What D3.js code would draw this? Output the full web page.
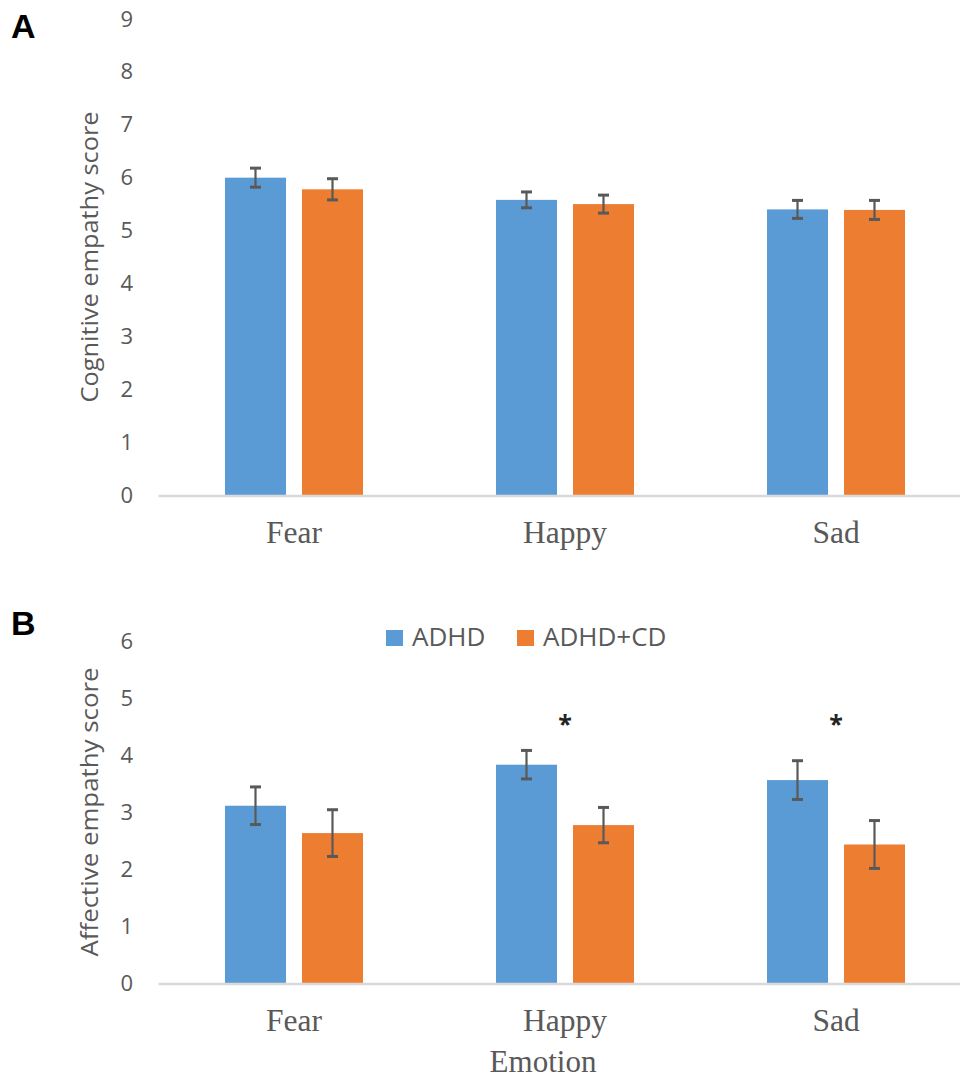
<!DOCTYPE html>
<html>
<head>
<meta charset="utf-8">
<script src="https://cdn.jsdelivr.net/npm/d3@7"></script>
<style>
  html, body { margin: 0; padding: 0; background: #fff; }
  svg { display: block; }
</style>
</head>
<body>
<svg id="chart" width="960" height="1080"></svg>
<script>
// Emotion categories and groups
const emotions = ["Fear", "Happy", "Sad"];
const groups = ["ADHD", "ADHD+CD"];
const groupColors = ["#5B9BD5", "#ED7D31"];

// Panel A: cognitive empathy (mean, standard error)
const cognitiveADHD = [6.00, 5.58, 5.40];
const cognitiveADHDerr = [0.18, 0.15, 0.17];
const cognitiveADHDCD = [5.78, 5.50, 5.39];
const cognitiveADHDCDerr = [0.20, 0.17, 0.18];
const cognitiveTicks = [0, 1, 2, 3, 4, 5, 6, 7, 8, 9];

// Panel B: affective empathy (mean, standard error)
const affectiveADHD = [3.11, 3.83, 3.56];
const affectiveADHDerr = [0.33, 0.25, 0.34];
const affectiveADHDCD = [2.63, 2.77, 2.43];
const affectiveADHDCDerr = [0.41, 0.31, 0.42];
const affectiveTicks = [0, 1, 2, 3, 4, 5, 6];

// Significant group differences (affective panel)
const significant = ["Happy", "Sad"];
const sigLevel = 4.6;

const svg = d3.select("#chart");
const tickFont = "'Open Sans', 'Noto Sans', sans-serif";
const catFont = "'Liberation Serif', 'Times New Roman', serif";
const textGray = "#595959";

const x0 = d3.scaleBand().domain(emotions).range([158.5, 971.5]).paddingInner(0).paddingOuter(0);
const barW = 61, barGap = 16;
const groupW = barW * 2 + barGap;
const x1 = d3.scaleBand().domain(groups)
  .range([x0.bandwidth() / 2 - groupW / 2, x0.bandwidth() / 2 + groupW / 2])
  .paddingInner(barGap / (barW + barGap))
  .paddingOuter(0);

function drawPanel(opts) {
  const y = d3.scaleLinear().domain(opts.domain).range(opts.range);
  const g = svg.append("g");

  // y tick labels (no axis line, no tick marks)
  const yAxis = d3.axisLeft(y).tickValues(opts.ticks).tickSize(0).tickPadding(0).tickFormat(d3.format("d"));
  const ya = g.append("g").attr("transform", "translate(133,0)").call(yAxis);
  ya.select(".domain").remove();
  ya.selectAll("text")
    .attr("font-family", tickFont).attr("font-size", 22).attr("fill", textGray)
    .attr("text-anchor", "end");

  // y axis title
  g.append("text")
    .attr("transform", `translate(${opts.titleX},${(opts.range[0] + opts.range[1]) / 2}) rotate(-90)`)
    .attr("text-anchor", "middle")
    .attr("dominant-baseline", "middle")
    .attr("font-family", tickFont).attr("font-size", 23).attr("fill", textGray)
    .attr("textLength", opts.titleLen).attr("lengthAdjust", "spacingAndGlyphs")
    .text(opts.title);

  // bars and error bars
  const rows = emotions.map((e, i) => ({
    emotion: e,
    vals: groups.map((gname, j) => ({ group: gname, j, mean: opts.means[j][i], err: opts.errs[j][i] }))
  }));
  const gg = g.selectAll(".grp").data(rows).enter().append("g")
    .attr("transform", d => `translate(${x0(d.emotion)},0)`);

  gg.selectAll("rect").data(d => d.vals).enter().append("rect")
    .attr("x", d => x1(d.group))
    .attr("width", x1.bandwidth())
    .attr("y", d => y(d.mean))
    .attr("height", d => y(0) - y(d.mean))
    .attr("fill", d => groupColors[d.j]);

  const eb = gg.selectAll(".eb").data(d => d.vals).enter().append("g")
    .attr("stroke", "#595959").attr("stroke-width", 2.2);
  const cx = d => x1(d.group) + x1.bandwidth() / 2;
  eb.append("line")
    .attr("x1", cx).attr("x2", cx)
    .attr("y1", d => y(d.mean + d.err)).attr("y2", d => y(d.mean - d.err));
  eb.append("line")
    .attr("x1", d => cx(d) - 5.5).attr("x2", d => cx(d) + 5.5)
    .attr("y1", d => y(d.mean + d.err)).attr("y2", d => y(d.mean + d.err))
    .attr("stroke-width", 3);
  eb.append("line")
    .attr("x1", d => cx(d) - 5.5).attr("x2", d => cx(d) + 5.5)
    .attr("y1", d => y(d.mean - d.err)).attr("y2", d => y(d.mean - d.err))
    .attr("stroke-width", 3);

  // baseline
  g.append("line")
    .attr("x1", x0.range()[0]).attr("x2", x0.range()[1])
    .attr("y1", y(0) + 1).attr("y2", y(0) + 1)
    .attr("stroke", "#d9d9d9").attr("stroke-width", 2.5);

  // category labels
  const xAxis = d3.axisBottom(x0).tickSize(0).tickPadding(0);
  const xa = g.append("g").attr("transform", `translate(0,${opts.catY})`).call(xAxis);
  xa.select(".domain").remove();
  xa.selectAll("text")
    .attr("font-family", catFont).attr("font-size", 31.5).attr("fill", textGray)
    .attr("dy", 0);

  return { g, y };
}

// Panel A
drawPanel({
  domain: [0, 9], range: [495, 19], ticks: cognitiveTicks,
  means: [cognitiveADHD, cognitiveADHDCD], errs: [cognitiveADHDerr, cognitiveADHDCDerr],
  title: "Cognitive empathy score", titleLen: 291, titleX: 92, catY: 542.5
});

// Panel B
const pB = drawPanel({
  domain: [0, 6], range: [983, 641], ticks: affectiveTicks,
  means: [affectiveADHD, affectiveADHDCD], errs: [affectiveADHDerr, affectiveADHDCDerr],
  title: "Affective empathy score", titleLen: 289, titleX: 92, catY: 1031
});

// significance markers
pB.g.selectAll(".sig").data(significant).enter().append("text")
  .attr("x", d => x0(d) + x0.bandwidth() / 2)
  .attr("y", pB.y(sigLevel) + 12)
  .attr("text-anchor", "middle")
  .attr("font-family", tickFont).attr("font-weight", "bold").attr("font-size", 25).attr("fill", "#222")
  .text("*");

// x axis title
svg.append("text")
  .attr("x", 543).attr("y", 1072)
  .attr("text-anchor", "middle")
  .attr("font-family", catFont).attr("font-size", 31).attr("fill", textGray)
  .text("Emotion");

// legend
const legendX = [386, 517];
const leg = svg.append("g").selectAll("g").data(groups).enter().append("g")
  .attr("transform", (d, i) => `translate(${legendX[i]},630)`);
leg.append("rect").attr("width", 17).attr("height", 16).attr("fill", (d, i) => groupColors[i]);
leg.append("text").attr("x", 26).attr("y", 16)
  .attr("font-family", tickFont).attr("font-size", 26).attr("fill", textGray)
  .text(d => d);

// panel letters
svg.append("text").attr("x", 11).attr("y", 38)
  .attr("font-family", "'Liberation Sans', Arial, sans-serif").attr("font-weight", "bold")
  .attr("font-size", 34).attr("fill", "#000").text("A");
svg.append("text").attr("x", 11).attr("y", 635)
  .attr("font-family", "'Liberation Sans', Arial, sans-serif").attr("font-weight", "bold")
  .attr("font-size", 34).attr("fill", "#000").text("B");
</script>
</body>
</html>
